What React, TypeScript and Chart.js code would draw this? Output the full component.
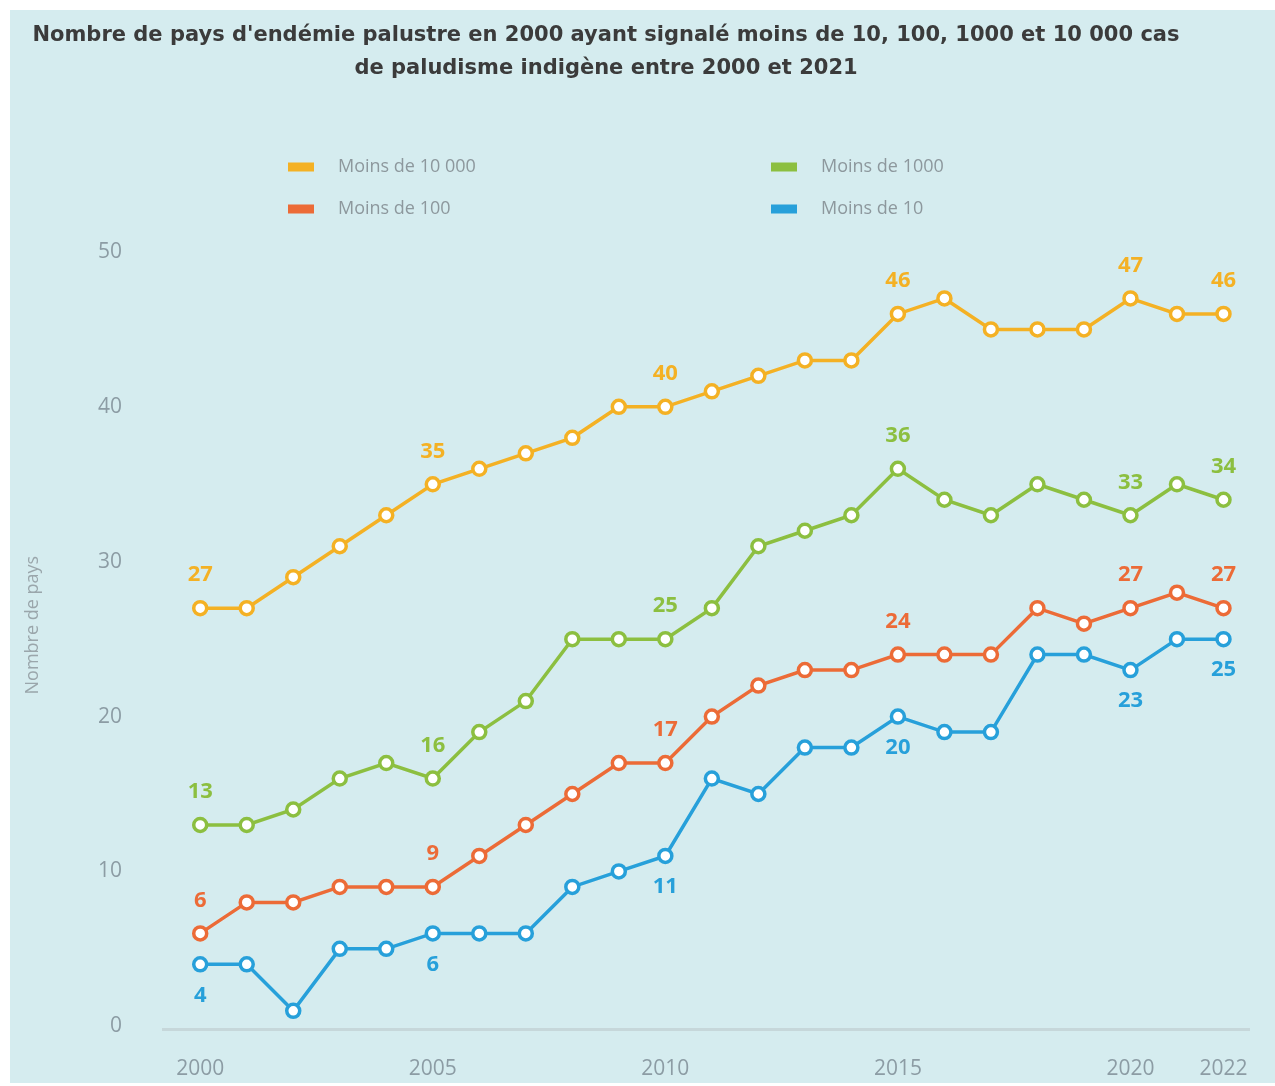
import React, { useEffect, useRef } from 'react';
import { Chart, registerables } from 'chart.js';

Chart.register(...registerables);

const years = [2000, 2001, 2002, 2003, 2004, 2005, 2006, 2007, 2008, 2009, 2010, 2011, 2012, 2013, 2014, 2015, 2016, 2017, 2018, 2019, 2020, 2021, 2022];
const seriesLabels = ['Moins de 10 000', 'Moins de 1000', 'Moins de 100', 'Moins de 10'];
const lessThan10000 = [27, 27, 29, 31, 33, 35, 36, 37, 38, 40, 40, 41, 42, 43, 43, 46, 47, 45, 45, 45, 47, 46, 46];
const lessThan1000 = [13, 13, 14, 16, 17, 16, 19, 21, 25, 25, 25, 27, 31, 32, 33, 36, 34, 33, 35, 34, 33, 35, 34];
const lessThan100 = [6, 8, 8, 9, 9, 9, 11, 13, 15, 17, 17, 20, 22, 23, 23, 24, 24, 24, 27, 26, 27, 28, 27];
const lessThan10 = [4, 4, 1, 5, 5, 6, 6, 6, 9, 10, 11, 16, 15, 18, 18, 20, 19, 19, 24, 24, 23, 25, 25];
const xTickValues = [2000, 2005, 2010, 2015, 2020, 2022];
const yTickValues = [0, 10, 20, 30, 40, 50];
const labelledYears = [2000, 2005, 2010, 2015, 2020, 2022];
const titleLines = [
  "Nombre de pays d'endémie palustre en 2000 ayant signalé moins de 10, 100, 1000 et 10 000 cas",
  'de paludisme indigène entre 2000 et 2021',
];
const yAxisTitle = 'Nombre de pays';

const COLORS = ['#f4b124', '#8cbf40', '#ec6b37', '#27a0da'];
const LABEL_BELOW = [false, false, false, true];
const FONT = "'Open Sans', 'DejaVu Sans', sans-serif";
const TITLE_FONT = "'DejaVu Sans', 'Open Sans', sans-serif";
const TICK_COLOR = '#8c9ca4';

const titlePlugin = {
  id: 'customTitle',
  afterDraw(chart: any) {
    const ctx = chart.ctx;
    ctx.save();
    ctx.fillStyle = '#3b3b3b';
    ctx.font = `bold 21px ${TITLE_FONT}`;
    ctx.textAlign = 'center';
    ctx.textBaseline = 'middle';
    titleLines.forEach((line, i) => ctx.fillText(line, 596, 26 + i * 33));
    ctx.restore();
  },
};

const legendPlugin = {
  id: 'customLegend',
  afterDraw(chart: any) {
    const ctx = chart.ctx;
    const cols = [278, 761];
    const rows = [157, 199];
    ctx.save();
    ctx.font = `18px ${FONT}`;
    ctx.textBaseline = 'middle';
    ctx.textAlign = 'left';
    chart.data.datasets.forEach((ds: any, i: number) => {
      const x = cols[i % 2];
      const y = rows[Math.floor(i / 2)];
      ctx.fillStyle = ds.borderColor;
      ctx.fillRect(x, y - 4.5, 26, 9);
      ctx.fillStyle = '#8d989d';
      ctx.fillText(ds.label, x + 50, y);
    });
    ctx.restore();
  },
};

const valueLabelPlugin = {
  id: 'valueLabels',
  afterDatasetsDraw(chart: any) {
    const ctx = chart.ctx;
    ctx.save();
    ctx.font = `bold 22px ${FONT}`;
    ctx.textAlign = 'center';
    ctx.textBaseline = 'middle';
    chart.data.datasets.forEach((ds: any, i: number) => {
      const meta = chart.getDatasetMeta(i);
      labelledYears.forEach((yr) => {
        const idx = years.indexOf(yr);
        const pt = meta.data[idx];
        if (!pt) return;
        ctx.fillStyle = ds.borderColor;
        const dy = ds.labelBelow ? 31 : -33;
        ctx.fillText(String(ds.data[idx].y), pt.x, pt.y + dy);
      });
    });
    ctx.restore();
  },
};

export default function App() {
  const ref = useRef<HTMLCanvasElement | null>(null);

  useEffect(() => {
    if (!ref.current) return;
    const series = [lessThan10000, lessThan1000, lessThan100, lessThan10];
    const chart = new Chart(ref.current, {
      type: 'line',
      data: {
        datasets: series.map((vals, i) => ({
          label: seriesLabels[i],
          data: vals.map((v, j) => ({ x: years[j], y: v })),
          borderColor: COLORS[i],
          backgroundColor: COLORS[i],
          borderWidth: 3.5,
          pointRadius: 6.5,
          pointBorderWidth: 3.5,
          pointBackgroundColor: '#ffffff',
          pointBorderColor: COLORS[i],
          tension: 0,
          labelBelow: LABEL_BELOW[i],
        })) as any,
      },
      options: {
        responsive: false,
        animation: false,
        devicePixelRatio: 1,
        layout: { padding: { top: 211, left: 10, right: 21, bottom: 1 } },
        plugins: {
          legend: { display: false },
          title: { display: false },
          tooltip: { enabled: false },
        },
        scales: {
          x: {
            type: 'linear',
            min: 1999.2,
            max: 2022.55,
            grid: { display: false, drawTicks: false },
            border: { display: true, color: '#c6d7da', width: 3 },
            ticks: {
              color: TICK_COLOR,
              font: { family: FONT, size: 21 },
              padding: 27,
              autoSkip: false,
              maxRotation: 0,
              callback: (v: any) => String(v),
            },
            afterBuildTicks: (s: any) => {
              s.ticks = xTickValues.map((v) => ({ value: v }));
            },
            afterFit: (s: any) => {
              s.height = 50;
            },
          },
          y: {
            type: 'linear',
            min: -0.2,
            max: 52,
            grid: { display: false, drawTicks: false },
            border: { display: false },
            ticks: {
              color: TICK_COLOR,
              font: { family: FONT, size: 21 },
              padding: 41,
              callback: (v: any) => String(v),
            },
            afterBuildTicks: (s: any) => {
              s.ticks = yTickValues.map((v) => ({ value: v }));
            },
            title: {
              display: true,
              text: yAxisTitle,
              color: '#9aa6ab',
              font: { family: FONT, size: 18 },
              padding: { top: 2, bottom: 0 },
            },
            afterFit: (s: any) => {
              s.width = 143;
            },
          },
        },
      } as any,
      plugins: [titlePlugin, legendPlugin, valueLabelPlugin],
    });
    return () => chart.destroy();
  }, []);

  return (
    <div
      style={{
        position: 'fixed',
        left: 10,
        top: 10,
        width: 1265,
        height: 1073,
        background: '#d5ecef',
      }}
    >
      <canvas ref={ref} width={1265} height={1073} style={{ display: 'block' }} />
    </div>
  );
}
